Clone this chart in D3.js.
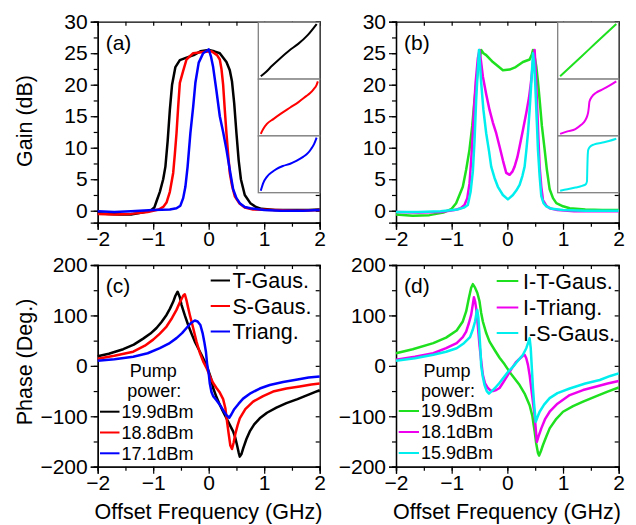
<!DOCTYPE html>
<html>
<head>
<meta charset="utf-8">
<script src="https://cdn.jsdelivr.net/npm/d3@7"></script>
<style>
    body { margin: 0; background: #fff; }
    svg { font-family: "Liberation Sans", Arial, sans-serif; }
</style>
</head>
<body>
<div id="chart"></div>
<script>
// Tick values
var freqTicks = [-2, -1, 0, 1, 2];
var gainTicks = [0, 5, 10, 15, 20, 25, 30];
var phaseTicks = [-200, -100, 0, 100, 200];

// Legend labels
var namesC = ["T-Gaus.", "S-Gaus.", "Triang."];
var namesD = ["I-T-Gaus.", "I-Triang.", "I-S-Gaus."];
var powersC = ["19.9dBm", "18.8dBm", "17.1dBm"];
var powersD = ["19.9dBm", "18.1dBm", "15.9dBm"];

// (a) gain, [offset GHz, dB]
var gainTGaus = [[-2,-0.4],[-1.8,-0.5],[-1.6,-0.6],[-1.4,-0.6],[-1.2,-0.3],[-1.05,0],[-0.98,0.5],[-0.94,1.5],[-0.88,3],[-0.82,5],[-0.78,7],[-0.74,11],[-0.7,16],[-0.66,20],[-0.6,22.8],[-0.52,23.9],[-0.4,24.3],[-0.27,24.7],[-0.15,25.3],[0,25.5],[0.1,25.3],[0.2,25],[0.32,23.6],[0.38,22.3],[0.42,20.5],[0.46,17],[0.5,12.3],[0.54,8],[0.58,5],[0.65,2.5],[0.75,1.2],[0.85,0.6],[0.95,0.3],[1.2,0.1],[1.5,0.1],[1.8,0.1],[2,0.2]];
var gainSGaus = [[-2,-0.5],[-1.7,-0.6],[-1.4,-0.5],[-1.1,-0.2],[-0.9,0.2],[-0.82,0.6],[-0.76,1.3],[-0.7,3],[-0.64,6],[-0.61,9],[-0.58,12.3],[-0.55,16.5],[-0.52,20.3],[-0.46,22.2],[-0.4,24],[-0.28,25],[-0.1,25.2],[0.05,25.3],[0.15,24.7],[0.2,24],[0.23,22.5],[0.26,20],[0.29,16],[0.32,12.3],[0.35,9],[0.38,6],[0.42,4],[0.47,2.3],[0.55,1.2],[0.65,0.5],[0.8,0.2],[1.2,0.1],[1.6,0],[2,0.1]];
var gainTriang = [[-2,-0.1],[-1.7,-0.2],[-1.4,-0.1],[-1,0.1],[-0.7,0.2],[-0.58,0.4],[-0.51,0.8],[-0.46,2],[-0.42,3.8],[-0.38,7],[-0.33,12.3],[-0.28,16.5],[-0.24,20.3],[-0.18,23.5],[-0.1,25],[0,25.6],[0.04,24.5],[0.08,22.8],[0.14,19],[0.2,15],[0.26,12.5],[0.32,9.7],[0.38,6.5],[0.44,3.4],[0.5,2],[0.56,1.2],[0.65,0.6],[0.75,0.4],[1,0.1],[1.3,0],[1.7,0],[2,0.1]];

// (b) gain
var gainITGaus = [[-2,-0.6],[-1.7,-0.8],[-1.4,-0.7],[-1.15,-0.3],[-1,0.3],[-0.92,1.2],[-0.86,2.5],[-0.8,3.8],[-0.74,6.5],[-0.68,9.7],[-0.63,13.5],[-0.59,17.6],[-0.54,21.5],[-0.5,24],[-0.47,25.5],[-0.43,25],[-0.38,24.7],[-0.26,23.6],[-0.15,22.8],[-0.08,22.3],[0.04,22.4],[0.15,22.8],[0.28,23.6],[0.4,24],[0.44,24.8],[0.46,25.5],[0.49,24.5],[0.52,22.9],[0.55,20.5],[0.58,17.6],[0.62,13.5],[0.67,9.7],[0.71,6.5],[0.76,3.4],[0.82,2],[0.88,1.2],[1,0.7],[1.12,0.4],[1.4,0.2],[1.7,0.1],[2,0.1]];
var gainITriang = [[-2,-0.2],[-1.6,-0.3],[-1.2,-0.2],[-0.95,0.1],[-0.84,0.4],[-0.77,0.9],[-0.72,2],[-0.68,4.3],[-0.65,8],[-0.62,12.3],[-0.6,16],[-0.57,20.3],[-0.53,24.2],[-0.5,25.5],[-0.47,23.5],[-0.44,21.3],[-0.38,18.5],[-0.32,16],[-0.26,14],[-0.2,12.3],[-0.14,10.2],[-0.08,8],[-0.02,6],[0.04,5.7],[0.09,6.2],[0.13,7],[0.18,8.5],[0.22,10.2],[0.28,12.8],[0.34,15.5],[0.39,18],[0.43,20.8],[0.46,23.5],[0.49,25.5],[0.51,22],[0.53,17.6],[0.56,11],[0.58,7],[0.61,3.8],[0.64,1.7],[0.7,0.8],[0.76,0.4],[0.9,0.1],[1.2,-0.1],[1.6,-0.1],[2,-0.1]];
var gainISGaus = [[-2,-0.2],[-1.6,-0.2],[-1.2,-0.1],[-0.9,0.2],[-0.78,0.5],[-0.71,0.9],[-0.66,3],[-0.62,6.2],[-0.59,11],[-0.56,17.6],[-0.53,22.5],[-0.51,25.5],[-0.49,23],[-0.47,20.3],[-0.43,16],[-0.38,12.3],[-0.33,9.5],[-0.29,7],[-0.23,5.2],[-0.17,3.8],[-0.08,2.5],[0.01,1.8],[0.1,2.5],[0.16,3.2],[0.22,4.1],[0.27,5.5],[0.31,7],[0.34,9.5],[0.37,12.3],[0.4,16],[0.43,20.3],[0.46,25],[0.48,23.5],[0.5,20.3],[0.53,14],[0.55,9.7],[0.58,5.5],[0.61,2.3],[0.65,1.2],[0.7,0.7],[0.8,0.3],[1,0.1],[1.4,0],[2,0]];

// (c) phase, [offset GHz, deg]
var phaseTGaus = [[-2,19],[-1.8,24],[-1.54,33],[-1.35,42],[-1.18,54],[-1.05,64],[-0.94,75],[-0.85,87],[-0.76,101],[-0.7,113],[-0.64,127],[-0.6,139],[-0.56,147],[-0.52,136],[-0.49,121],[-0.43,100],[-0.37,81],[-0.31,64],[-0.25,48],[-0.19,35],[-0.13,22],[-0.07,8],[-0.01,-8],[0.04,-24],[0.08,-44],[0.14,-62],[0.2,-77],[0.26,-91],[0.32,-104],[0.38,-117],[0.44,-130],[0.48,-143],[0.51,-157],[0.54,-172],[0.56,-180],[0.59,-175],[0.62,-164],[0.68,-145],[0.74,-130],[0.82,-116],[0.92,-104],[1.05,-93],[1.22,-83],[1.4,-74],[1.6,-66],[1.8,-57],[2,-48]];
var phaseSGaus = [[-2,14],[-1.7,20],[-1.36,28],[-1.15,40],[-1,52],[-0.88,64],[-0.76,78],[-0.66,95],[-0.58,111],[-0.52,126],[-0.46,139],[-0.43,142],[-0.4,130],[-0.37,115],[-0.34,101],[-0.28,75],[-0.22,48],[-0.16,26],[-0.1,9],[-0.04,-4],[0.02,-20],[0.08,-34],[0.14,-44],[0.2,-53],[0.26,-66],[0.3,-84],[0.33,-110],[0.36,-135],[0.39,-158],[0.42,-165],[0.45,-152],[0.48,-135],[0.52,-118],[0.56,-104],[0.66,-86],[0.8,-71],[0.98,-60],[1.16,-51],[1.4,-45],[1.64,-41],[1.85,-37],[2,-35]];
var phaseTriang = [[-2,10],[-1.7,13],[-1.36,18],[-1.1,25],[-0.88,35],[-0.72,44],[-0.58,55],[-0.48,65],[-0.4,75],[-0.32,85],[-0.25,90],[-0.2,88],[-0.15,81],[-0.11,65],[-0.08,48],[-0.05,28],[-0.03,5],[0,-15],[0.02,-35],[0.05,-52],[0.08,-60],[0.14,-68],[0.2,-77],[0.26,-88],[0.32,-98],[0.37,-103],[0.41,-96],[0.46,-86],[0.54,-75],[0.62,-65],[0.76,-54],[0.92,-45],[1.1,-38],[1.34,-32],[1.6,-27],[1.8,-23],[2,-21]];

// (d) phase
var phaseITGaus = [[-2,25],[-1.7,33],[-1.33,45],[-1.1,56],[-0.91,70],[-0.8,88],[-0.74,108],[-0.69,135],[-0.65,155],[-0.62,162],[-0.58,155],[-0.54,145],[-0.5,128],[-0.47,105],[-0.44,88],[-0.38,65],[-0.32,48],[-0.22,30],[-0.14,16],[-0.05,3],[0.04,-12],[0.13,-25],[0.22,-38],[0.31,-55],[0.4,-78],[0.45,-100],[0.49,-130],[0.52,-155],[0.55,-173],[0.57,-178],[0.6,-170],[0.64,-157],[0.7,-140],[0.76,-124],[0.88,-105],[1,-91],[1.18,-80],[1.36,-71],[1.6,-60],[1.8,-51],[2,-43]];
var phaseITriang = [[-2,12],[-1.66,18],[-1.33,25],[-1.1,35],[-0.91,45],[-0.8,57],[-0.74,68],[-0.69,85],[-0.65,101],[-0.62,122],[-0.6,136],[-0.58,128],[-0.56,114],[-0.53,80],[-0.5,41],[-0.47,10],[-0.44,-18],[-0.4,-35],[-0.35,-44],[-0.3,-49],[-0.26,-50],[-0.2,-48],[-0.14,-44],[-0.07,-32],[0.01,-18],[0.08,-5],[0.16,8],[0.23,15],[0.28,20],[0.31,22],[0.34,15],[0.37,2],[0.4,-18],[0.43,-45],[0.46,-72],[0.49,-98],[0.51,-125],[0.53,-151],[0.56,-140],[0.61,-124],[0.68,-105],[0.76,-91],[0.9,-75],[1.12,-58],[1.36,-48],[1.6,-41],[1.8,-35],[2,-30]];
var phaseISGaus = [[-2,10],[-1.66,15],[-1.33,22],[-1.1,28],[-0.91,35],[-0.78,45],[-0.67,57],[-0.62,72],[-0.58,88],[-0.55,108],[-0.54,111],[-0.52,95],[-0.5,60],[-0.48,25],[-0.47,0],[-0.44,-22],[-0.41,-38],[-0.37,-50],[-0.33,-55],[-0.28,-50],[-0.23,-45],[-0.15,-35],[-0.08,-25],[0.01,-12],[0.1,-2],[0.19,10],[0.28,22],[0.34,35],[0.38,48],[0.4,55],[0.42,35],[0.44,-5],[0.46,-44],[0.48,-75],[0.51,-111],[0.54,-102],[0.58,-91],[0.66,-77],[0.76,-64],[0.9,-54],[1.12,-45],[1.4,-35],[1.66,-28],[1.85,-20],[2,-15]];

// Inset pulse shapes (normalised 0..1 within each small box)
var insetTGaus = [[0.04,0.05],[0.12,0.12],[0.22,0.23],[0.35,0.36],[0.5,0.5],[0.65,0.62],[0.8,0.77],[0.95,0.97]];
var insetSGaus = [[0.04,0.035],[0.08,0.12],[0.14,0.21],[0.25,0.3],[0.38,0.4],[0.52,0.5],[0.66,0.6],[0.78,0.7],[0.84,0.75],[0.9,0.82],[0.95,0.9],[0.97,0.96]];
var insetTriang = [[0.04,0.035],[0.08,0.17],[0.14,0.28],[0.22,0.36],[0.3,0.42],[0.4,0.47],[0.52,0.51],[0.62,0.56],[0.73,0.63],[0.81,0.7],[0.86,0.77],[0.91,0.86],[0.95,0.97]];
var insetITGaus = [[0.04,0.05],[0.27,0.28],[0.5,0.51],[0.73,0.74],[0.96,0.97]];
var insetITriang = [[0.04,0.035],[0.16,0.08],[0.29,0.12],[0.38,0.19],[0.45,0.27],[0.48,0.34],[0.5,0.42],[0.51,0.5],[0.52,0.6],[0.56,0.69],[0.63,0.76],[0.72,0.81],[0.84,0.88],[0.96,0.96]];
var insetISGaus = [[0.04,0.035],[0.16,0.06],[0.29,0.09],[0.4,0.12],[0.46,0.15],[0.48,0.2],[0.485,0.4],[0.49,0.6],[0.5,0.75],[0.53,0.81],[0.6,0.85],[0.72,0.88],[0.84,0.91],[0.96,0.95]];

// Colours
var cBlack = "#000000", cRed = "#ff0000", cBlue = "#0000ff";
var cGreen = "#1ee01e", cMagenta = "#ee00ee", cCyan = "#00eeee";

var svg = d3.select("#chart").append("svg")
    .attr("width", 636)
    .attr("height", 525);

var tickFont = "21px";

// Draw one panel frame with axes, returns scales
var makePanel = function(opt) {
    var x = d3.scaleLinear().domain([-2, 2]).range([opt.left, opt.right]);
    var y = d3.scaleLinear().domain(opt.yDomain).range([opt.bottom, opt.top]);
    var g = svg.append("g");

    // Bottom axis, outward ticks
    g.append("g")
        .attr("transform", "translate(0," + opt.bottom + ")")
        .call(d3.axisBottom(x).tickValues(d3.range(-2, 2.01, 0.5)).tickSize(4).tickFormat(""));
    g.append("g")
        .attr("transform", "translate(0," + opt.bottom + ")")
        .call(d3.axisBottom(x).tickValues(freqTicks).tickSize(7).tickPadding(1).tickFormat(d3.format("d")));
    // Left axis
    g.append("g")
        .attr("transform", "translate(" + opt.left + ",0)")
        .call(d3.axisLeft(y).tickValues(opt.minor).tickSize(4).tickFormat(""));
    g.append("g")
        .attr("transform", "translate(" + opt.left + ",0)")
        .call(d3.axisLeft(y).tickValues(opt.major).tickSize(7).tickPadding(3).tickFormat(d3.format("d")));
    // Top & right axes, inward ticks
    g.append("g")
        .attr("transform", "translate(0," + opt.top + ")")
        .call(d3.axisTop(x).tickValues(d3.range(-2, 2.01, 0.5)).tickSize(-4).tickFormat(""));
    g.append("g")
        .attr("transform", "translate(" + opt.right + ",0)")
        .call(d3.axisRight(y).tickValues(opt.minor).tickSize(-4).tickFormat(""));

    g.selectAll(".domain").attr("stroke", "#000").attr("stroke-width", 1.3);
    g.selectAll(".tick line").attr("stroke", "#000").attr("stroke-width", 1.2);
    g.selectAll(".tick text")
        .style("font-size", tickFont)
        .style("font-family", "Liberation Sans, Arial, sans-serif")
        .attr("fill", "#000");

    // Panel label
    svg.append("text")
        .attr("x", opt.left + 8)
        .attr("y", opt.top + 28)
        .style("font-size", "21px")
        .text(opt.label);

    return { x: x, y: y };
};

var drawCurve = function(sc, data, color) {
    var line = d3.line()
        .x(function(d) { return sc.x(d[0]); })
        .y(function(d) { return sc.y(d[1]); });
    svg.append("path")
        .attr("d", line(data))
        .attr("fill", "none")
        .attr("stroke", color)
        .attr("stroke-width", 2.5)
        .attr("stroke-linejoin", "round");
};

// Inset with three stacked boxes
var drawInset = function(left, right, top, bottom, curves, colors) {
    var h = (bottom - top) / 3;
    curves.forEach(function(c, i) {
        var bx = d3.scaleLinear().domain([0, 1]).range([left, right]);
        var by = d3.scaleLinear().domain([0, 1]).range([top + h * (i + 1), top + h * i]);
        svg.append("rect")
            .attr("x", left)
            .attr("y", top + h * i)
            .attr("width", right - left)
            .attr("height", h)
            .attr("fill", "#fff")
            .attr("stroke", "#808080")
            .attr("stroke-width", 1.3);
        var line = d3.line()
            .x(function(d) { return bx(d[0]); })
            .y(function(d) { return by(d[1]); })
            .curve(d3.curveMonotoneX);
        svg.append("path")
            .attr("d", line(c))
            .attr("fill", "none")
            .attr("stroke", colors[i])
            .attr("stroke-width", 2);
    });
};

var legend = function(x0, x1, tx, yRows, names, colors, size) {
    names.forEach(function(n, i) {
        svg.append("line")
            .attr("x1", x0).attr("x2", x1)
            .attr("y1", yRows[i]).attr("y2", yRows[i])
            .attr("stroke", colors[i])
            .attr("stroke-width", 2);
        svg.append("text")
            .attr("x", tx)
            .attr("y", yRows[i] + size * 0.36)
            .style("font-size", size + "px")
            .text(n);
    });
};

var pumpLabel = function(cx) {
    svg.append("text").attr("x", cx).attr("y", 377).attr("text-anchor", "middle")
        .style("font-size", "18px").text("Pump");
    svg.append("text").attr("x", cx + 1).attr("y", 396.5).attr("text-anchor", "middle")
        .style("font-size", "18px").text("power:");
};

// Panels
var gainMinor = d3.range(0, 30.01, 2.5);
var phaseMinor = d3.range(-200, 200.01, 50);

var pa = makePanel({ left: 97.7, right: 319.7, top: 21.7, bottom: 222.7, yDomain: [-1.9, 30],
    major: gainTicks, minor: gainMinor, label: "(a)" });
var pb = makePanel({ left: 396, right: 618.7, top: 21.7, bottom: 222.7, yDomain: [-1.9, 30],
    major: gainTicks, minor: gainMinor, label: "(b)" });
var pc = makePanel({ left: 97.7, right: 319.7, top: 265, bottom: 466.7, yDomain: [-200, 200],
    major: phaseTicks, minor: phaseMinor, label: "(c)" });
var pd = makePanel({ left: 396, right: 618.7, top: 265, bottom: 466.7, yDomain: [-200, 200],
    major: phaseTicks, minor: phaseMinor, label: "(d)" });

// Curves
drawCurve(pa, gainTGaus, cBlack);
drawCurve(pa, gainSGaus, cRed);
drawCurve(pa, gainTriang, cBlue);

drawCurve(pb, gainITGaus, cGreen);
drawCurve(pb, gainITriang, cMagenta);
drawCurve(pb, gainISGaus, cCyan);

drawCurve(pc, phaseTGaus, cBlack);
drawCurve(pc, phaseSGaus, cRed);
drawCurve(pc, phaseTriang, cBlue);

drawCurve(pd, phaseITGaus, cGreen);
drawCurve(pd, phaseITriang, cMagenta);
drawCurve(pd, phaseISGaus, cCyan);

// Insets
drawInset(258.3, 319.7, 22.3, 192.7, [insetTGaus, insetSGaus, insetTriang], [cBlack, cRed, cBlue]);
drawInset(557.7, 618.7, 22.3, 192.7, [insetITGaus, insetITriang, insetISGaus], [cGreen, cMagenta, cCyan]);

// Legends
legend(210.7, 230, 232.5, [280.5, 306, 331.5], namesC, [cBlack, cRed, cBlue], 21.5);
legend(496.7, 518.3, 523, [281, 307.5, 333], namesD, [cGreen, cMagenta, cCyan], 21.5);
pumpLabel(153.3);
pumpLabel(447);
legend(100, 119.5, 121.5, [411.7, 432.5, 453.3], powersC, [cBlack, cRed, cBlue], 18);
legend(398.7, 419, 421, [411, 432, 453], powersD, [cGreen, cMagenta, cCyan], 18);

// Axis titles
svg.append("text")
    .attr("transform", "translate(32,121) rotate(-90)")
    .attr("text-anchor", "middle")
    .style("font-size", "21.5px")
    .text("Gain (dB)");
svg.append("text")
    .attr("transform", "translate(32,362) rotate(-90)")
    .attr("text-anchor", "middle")
    .style("font-size", "21.5px")
    .text("Phase (Deg.)");
svg.append("text")
    .attr("x", 208.5).attr("y", 519)
    .attr("text-anchor", "middle")
    .style("font-size", "21.5px")
    .text("Offset Frequency (GHz)");
svg.append("text")
    .attr("x", 507).attr("y", 519)
    .attr("text-anchor", "middle")
    .style("font-size", "21.5px")
    .text("Offset Frequency (GHz)");
</script>
</body>
</html>
